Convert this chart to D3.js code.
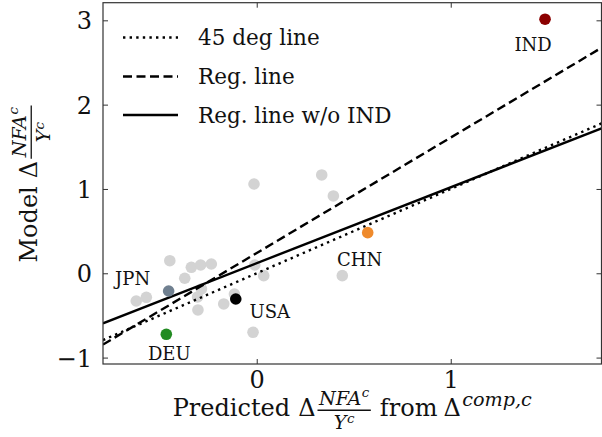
<!DOCTYPE html>
<html><head><meta charset="utf-8">
<script src="https://cdn.jsdelivr.net/npm/d3@7"></script>
<style>body{margin:0;background:#fff}svg{display:block}</style>
</head><body><svg id="c" width="602" height="437"></svg>
<script>
// ---- data ----
const countries = ["IND", "CHN", "USA", "JPN", "DEU"];
const countryX = [1.486, 0.572, -0.108, -0.454, -0.466];
const countryY = [3.013, 0.482, -0.305, -0.210, -0.724];
const countryColors = ["#8b0000", "#ef8a2c", "#000000", "#708090", "#228b22"];
const otherX = [-0.448, -0.337, -0.289, -0.234, -0.371, -0.621, -0.569, -0.285, -0.305, -0.303, -0.170, -0.019, -0.010, 0.036, -0.014, 0.335, 0.395, 0.441, -0.115];
const otherY = [0.149, 0.071, 0.098, 0.110, -0.059, -0.329, -0.285, -0.186, -0.281, -0.435, -0.364, -0.700, 0.098, -0.028, 1.059, 1.166, 0.917, -0.028, -0.246];
const xTicks = [0, 1];
const yTicks = [-1, 0, 1, 2, 3];
const regSlope = 1.37, regIntercept = 0.24;
const regSlopeNoIND = 0.90, regInterceptNoIND = 0.12;
const legendLabels = ["45 deg line", "Reg. line", "Reg. line w/o IND"];
const xDomain = [-0.7923, 1.7770];
const yDomain = [-1.076, 3.209];

// label placement (px offsets from point: centre x, baseline y)
const labelOffsets = {IND: [-12, 32], CHN: [-8, 33], USA: [34, 19], JPN: [-36, -6], DEU: [3, 26]};

const SERIF = "DejaVu Serif", MATH = "DejaVu Serif";
const svg = d3.select("#c");
const L = 103, R = 601.5, T = 2.7, B = 364;
const x = d3.scaleLinear().domain(xDomain).range([L, R]);
const y = d3.scaleLinear().domain(yDomain).range([B, T]);

svg.append("defs").append("clipPath").attr("id", "clip")
  .append("rect").attr("x", L).attr("y", T).attr("width", R - L).attr("height", B - T);

const plot = svg.append("g").attr("clip-path", "url(#clip)");

// gray points
plot.selectAll("circle.o").data(otherX.map((d, i) => [d, otherY[i]])).join("circle")
  .attr("class", "o").attr("cx", d => x(d[0])).attr("cy", d => y(d[1])).attr("r", 5.8)
  .attr("fill", "#d3d3d3");

// lines
const lw = 2.4;
const lineDefs = [
  {f: v => v, dash: "2.4,4.2"},
  {f: v => regIntercept + regSlope * v, dash: "9,4.5"},
  {f: v => regInterceptNoIND + regSlopeNoIND * v, dash: null}
];
const line = d3.line().x(d => x(d[0])).y(d => y(d[1]));
lineDefs.forEach(ld => {
  plot.append("path").datum(xDomain.map(v => [v, ld.f(v)]))
    .attr("d", line).attr("fill", "none").attr("stroke", "#000").attr("stroke-width", lw)
    .attr("stroke-dasharray", ld.dash);
});

// coloured points
plot.selectAll("circle.c").data(countries).join("circle")
  .attr("class", "c").attr("cx", (d, i) => x(countryX[i])).attr("cy", (d, i) => y(countryY[i]))
  .attr("r", 5.8).attr("fill", (d, i) => countryColors[i]);

// country labels
svg.selectAll("text.cl").data(countries).join("text")
  .attr("class", "cl")
  .attr("x", (d, i) => x(countryX[i]) + labelOffsets[d][0])
  .attr("y", (d, i) => y(countryY[i]) + labelOffsets[d][1])
  .attr("text-anchor", "middle").style("font-family", SERIF).style("font-size", "18px")
  .attr("fill", "#111").text(d => d);

// axes (ticks inward on all sides)
const axCol = "#333";
function styleAxis(g) {
  g.select(".domain").remove();
  g.selectAll(".tick line").attr("stroke", axCol).attr("stroke-width", 1);
}
svg.append("g").attr("transform", `translate(0,${B})`)
  .call(d3.axisBottom(x).tickValues(xTicks).tickSize(-5).tickPadding(8).tickFormat(d3.format("d")))
  .call(styleAxis)
  .call(g => g.selectAll("text").style("font-family", SERIF).style("font-size", "24px").attr("fill", "#111").attr("y", 24).attr("dy", 0));
svg.append("g").attr("transform", `translate(0,${T})`)
  .call(d3.axisTop(x).tickValues(xTicks).tickSize(-5).tickFormat(""))
  .call(styleAxis);
svg.append("g").attr("transform", `translate(${L},0)`)
  .call(d3.axisLeft(y).tickValues(yTicks).tickSize(-5).tickPadding(11).tickFormat(d => d < 0 ? "\u2212" + Math.abs(d) : d))
  .call(styleAxis)
  .call(g => g.selectAll("text").style("font-family", SERIF).style("font-size", "24px").attr("fill", "#111").attr("dy", "0.36em"));
svg.append("g").attr("transform", `translate(${R},0)`)
  .call(d3.axisRight(y).tickValues(yTicks).tickSize(-5).tickFormat(""))
  .call(styleAxis);

// frame
svg.append("rect").attr("x", L).attr("y", T).attr("width", R - L).attr("height", B - T)
  .attr("fill", "none").attr("stroke", axCol).attr("stroke-width", 1.2);

// legend
const lg = svg.append("g");
const legY = [37.5, 76.5, 115];
lineDefs.forEach((ld, i) => {
  lg.append("line").attr("x1", 123).attr("x2", 178).attr("y1", legY[i]).attr("y2", legY[i])
    .attr("stroke", "#000").attr("stroke-width", lw).attr("stroke-dasharray", ld.dash);
  lg.append("text").attr("x", 198).attr("y", legY[i] + 7.5)
    .style("font-family", SERIF).style("font-size", "21.5px").attr("fill", "#111").text(legendLabels[i]);
});

// math-like axis labels
function run(parent, items, x0, y0, size, inFrac) {
  let cx = x0;
  items.forEach(it => {
    if (it.num) {
      const fsz = size * 0.8;
      const ng = parent.append("g"), dg = parent.append("g");
      const nw = run(ng, it.num, 0, 0, fsz, true);
      const dw = run(dg, it.den, 0, 0, fsz, true);
      const pad = 1.5;
      const w = Math.max(nw, dw) + 2 * pad;
      ng.attr("transform", `translate(${cx + (w - nw) / 2},${y0 - size * 0.46})`);
      dg.attr("transform", `translate(${cx + (w - dw) / 2},${y0 + size * 0.56})`);
      parent.append("line").attr("x1", cx).attr("x2", cx + w)
        .attr("y1", y0 - size * 0.24).attr("y2", y0 - size * 0.24)
        .attr("stroke", "#111").attr("stroke-width", 1.3);
      cx += w + (it.gap || 0);
    } else {
      const s = it.sup ? size * (it.ss || 0.7) : size;
      const raise = it.sup ? size * (it.rs || 0.4) : 0;
      const t = parent.append("text").attr("x", cx).attr("y", y0 - raise)
        .style("font-family", it.it ? MATH : SERIF).style("font-style", it.it ? "italic" : "normal")
        .style("font-size", s + "px").attr("fill", "#111").text(it.t);
      cx += t.node().getComputedTextLength() + (it.gap || 0);
    }
  });
  return cx - x0;
}
const frac = [{t: "NFA", it: true, gap: 0.5}, {t: "c", it: true, sup: true, rs: 0.42}];
const den = [{t: "Y", it: true, gap: 0.5}, {t: "c", it: true, sup: true, rs: 0.32}];
const xl = svg.append("g");
const xInner = xl.append("g");
const xw = run(xInner, [
  {t: "Predicted", gap: 8}, {t: "\u0394", gap: 2}, {num: frac, den: den, gap: 9},
  {t: "from", gap: 6}, {t: "\u0394", gap: 1.5}, {t: "comp,c", it: true, sup: true, ss: 0.8, rs: 0.4}
], 0, 0, 24);
xl.attr("transform", `translate(${(L + R) / 2 - xw / 2},416)`);

const yl = svg.append("g");
const yInner = yl.append("g");
const yw = run(yInner, [
  {t: "Model", gap: 8}, {t: "\u0394", gap: 2}, {num: frac, den: den}
], 0, 0, 24);
yl.attr("transform", `translate(37,${184 + yw / 2}) rotate(-90)`);
</script></body></html>
